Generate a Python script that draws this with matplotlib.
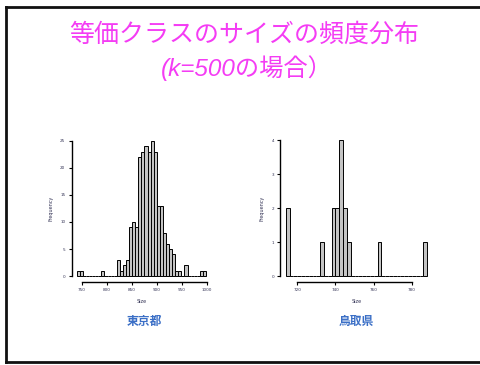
import numpy as np
import matplotlib
matplotlib.use('Agg')
import matplotlib.pyplot as plt
from matplotlib.lines import Line2D

# frequency of equivalence class sizes, k=500
tokyo_start = 739.5   # left edge of first class
tokyo_binw = 6.15
tokyo_counts = [1, 1, 0, 0, 0, 0, 0, 0, 1, 0, 0, 0, 0, 3, 1, 2, 3, 9, 10, 9,
                22, 23, 24, 23, 25, 23, 13, 13, 8, 6, 5, 4, 1, 1, 0, 2, 0, 0,
                0, 0, 1, 1]
tokyo_xticks = [750, 800, 850, 900, 950, 1000]
tokyo_yticks = [0, 5, 10, 15, 20, 25]

tottori_start = 714
tottori_binw = 2
tottori_counts = [2, 0, 0, 0, 0, 0, 0, 0, 0, 1, 0, 0, 2, 2, 4, 2, 1, 0, 0, 0,
                  0, 0, 0, 0, 1, 0, 0, 0, 0, 0, 0, 0, 0, 0, 0, 0, 1]
tottori_xticks = [720, 740, 760, 780]
tottori_yticks = [0, 1, 2, 3, 4]

title1 = '等価クラスのサイズの頻度分布'
title2 = '(k=500の場合）'
panel_names = ['東京都', '鳥取県']

W, H = 481, 365
fig = plt.figure(figsize=(W / 100, H / 100), dpi=100)
fig.patch.set_facecolor('white')


def px_axes(x0, y0, x1, y1):
    # axes from pixel box (top-left origin)
    return fig.add_axes([x0 / W, 1 - y1 / H, (x1 - x0) / W, (y1 - y0) / H])


def r_hist(ax, start, binw, counts, xticks, yticks):
    counts = np.array(counts)
    edges = start + binw * np.arange(len(counts) + 1)
    ax.bar(edges[:-1], counts, width=binw, align='edge',
           color='#c4c4c4', edgecolor='black', linewidth=0.7)
    # R style 4% padding around the data
    xr = edges[-1] - edges[0]
    ax.set_xlim(edges[0] - 0.04 * xr, edges[-1] + 0.04 * xr)
    ymax = counts.max()
    ax.set_ylim(-0.04 * ymax, ymax * 1.04)
    for s in ['top', 'right']:
        ax.spines[s].set_visible(False)
    ax.spines['left'].set_bounds(yticks[0], yticks[-1])
    ax.spines['bottom'].set_bounds(xticks[0], xticks[-1])
    for s in ['left', 'bottom']:
        ax.spines[s].set_linewidth(1.0)
    ax.set_xticks(xticks)
    ax.set_yticks(yticks)
    ax.tick_params(length=2, width=0.8, labelsize=3, pad=2.5,
                   labelcolor='#333355')
    ax.set_xlabel('Size', fontsize=3.5, labelpad=5, color='#333355')
    ax.set_ylabel('Frequency', fontsize=3.5, labelpad=5, color='#333355')
    ax.patch.set_alpha(0)


ax1 = px_axes(71.6, 135.4, 211.2, 281.5)
r_hist(ax1, tokyo_start, tokyo_binw, tokyo_counts, tokyo_xticks, tokyo_yticks)

ax2 = px_axes(280.2, 134.6, 432.8, 281.5)
r_hist(ax2, tottori_start, tottori_binw, tottori_counts, tottori_xticks,
       tottori_yticks)

# slide title
pink = '#f43cf4'
fig.text(244 / W, 1 - 35 / H, title1, ha='center', va='center', fontsize=18,
         color=pink, family=['Noto Sans CJK JP'])
fig.text(247 / W, 1 - 68 / H, title2, ha='center', va='center', fontsize=17.5,
         color=pink, style='italic',
         family=['Liberation Sans', 'Noto Sans CJK JP'])

# panel captions
for xc, name in zip([144, 356], panel_names):
    fig.text(xc / W, 1 - 321 / H, name, ha='center', va='center',
             fontsize=8.5, color='#3b6fc6', weight='bold',
             family=['Noto Sans CJK JP'])

# slide frame (open on the right)
frame = dict(color='#111111', linewidth=2.0, transform=None)
fig.add_artist(Line2D([6, W + 5], [H - 7, H - 7], **frame))
fig.add_artist(Line2D([6, 6], [H - 7, H - 362], **frame))
fig.add_artist(Line2D([6, W + 5], [H - 362, H - 362], **frame))

fig.savefig('out.png', dpi=100)
